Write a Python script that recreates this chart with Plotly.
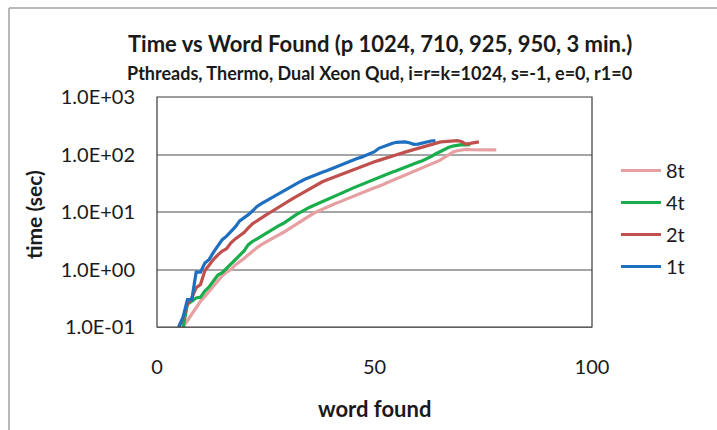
import plotly.graph_objects as go

# word-found counts start at these values (integer steps of one word)
start_1t, start_2t, start_4t, start_8t = 5, 5, 6, 6

time_1t = [0.10, 0.15, 0.30, 0.30, 0.90, 0.90, 1.3, 1.5, 2.0, 2.6, 3.3, 3.8, 4.5, 5.5, 7.0, 7.8,
           9.0, 10.5, 12.5, 14.0, 15.5, 17.0, 19.0, 21.0, 23.0, 25.5, 28.0, 31.0, 34.0, 37.0,
           40.0, 43.0, 46.0, 49.0, 52.0, 56.0, 60.0, 65.0, 69.0, 73.0, 79.0, 85.0, 90.0, 97.0,
           104, 112, 128, 138, 146, 155, 163, 166, 166, 160, 150, 152, 160, 168, 172, 175]

time_2t = [0.10, 0.14, 0.25, 0.32, 0.48, 0.55, 0.95, 1.2, 1.5, 1.8, 2.1, 2.3, 2.9, 3.4, 3.8, 4.4,
           5.3, 6.3, 7.0, 8.0, 8.8, 9.8, 11.0, 12.3, 13.5, 15.0, 16.8, 18.5, 20.5, 23.0, 25.0,
           27.5, 30.5, 33.5, 36.0, 38.5, 41.5, 44.0, 47.0, 51.0, 55.0, 58.0, 62.0, 66.0, 71.0,
           75.0, 79.0, 84.0, 89.0, 94.0, 99.0, 104, 110, 116, 122, 128, 136, 143, 150, 157, 164,
           168, 170, 172, 174, 168, 152, 156, 162, 166]

time_4t = [0.10, 0.25, 0.28, 0.32, 0.33, 0.42, 0.50, 0.62, 0.80, 0.88, 1.05, 1.25, 1.45, 1.8, 2.1,
           2.7, 3.1, 3.4, 3.8, 4.2, 4.7, 5.2, 5.8, 6.3, 7.2, 8.0, 9.0, 10.0, 11.0, 12.0, 13.0, 14.0,
           15.0, 16.3, 17.5, 18.8, 20.0, 22.0, 24.0, 26.0, 28.0, 30.0, 32.0, 34.5, 37.0, 39.5,
           42.5, 45.5, 49.0, 52.0, 56.0, 60.0, 64.0, 68.0, 73.0, 78.0, 84.0, 92.0, 102, 112, 122,
           132, 140, 146, 148, 147, 148]

time_8t = [0.10, 0.13, 0.17, 0.22, 0.28, 0.34, 0.42, 0.52, 0.66, 0.78, 0.90, 1.0, 1.2, 1.35, 1.55,
           1.8, 2.1, 2.4, 2.7, 3.0, 3.3, 3.6, 4.0, 4.4, 4.9, 5.5, 6.2, 7.0, 7.8, 8.6, 9.5, 10.3,
           11.2, 12.0, 13.0, 14.0, 15.0, 16.2, 17.5, 18.8, 20.0, 21.5, 23.0, 24.5, 26.0, 28.0,
           30.0, 32.5, 35.0, 37.5, 40.0, 43.0, 46.0, 49.0, 53.0, 57.0, 62.0, 67.0, 73.0, 79.0,
           88.0, 98.0, 110, 116, 120, 123, 122, 121, 120, 120, 120, 120, 120]

# legend order, top to bottom
series_names = ["8t", "4t", "2t", "1t"]
series_starts = [start_8t, start_4t, start_2t, start_1t]
series_values = [time_8t, time_4t, time_2t, time_1t]
series_colors = ["#e6a0a2", "#1aad4b", "#c0504d", "#1f6fc0"]

y_tick_vals = [0.1, 1, 10, 100, 1000]
y_tick_text = ["1.0E-01", "1.0E+00", "1.0E+01", "1.0E+02", "1.0E+03"]
x_tick_vals = [0, 50, 100]

FONT = "Lato"
TXT = "#1a1a1a"

fig = go.Figure()
for name, s, vals, col in zip(series_names, series_starts, series_values, series_colors):
    fig.add_trace(go.Scatter(
        x=list(range(s, s + len(vals))), y=vals, mode="lines", name=name,
        legendgroup=name, line=dict(color=col, width=3.2),
    ))

L, R, T, B = 157, 125, 97, 103
W, H = 717, 430
pw, ph = W - L - R, H - T - B


def px(xp):
    return (xp - L) / pw


def py(yp):
    return (H - B - yp) / ph


fig.update_layout(
    width=W, height=H,
    margin=dict(l=L, r=R, t=T, b=B, autoexpand=False),
    paper_bgcolor="white", plot_bgcolor="white",
    font=dict(family=FONT, color=TXT),
    showlegend=True,
    legend=dict(
        x=px(616), y=py(151), xanchor="left", yanchor="top",
        traceorder="grouped", tracegroupgap=3,
        font=dict(size=20, family=FONT, color=TXT),
        bgcolor="rgba(0,0,0,0)", itemwidth=40,
    ),
    xaxis=dict(
        range=[0, 100], tickvals=x_tick_vals, showgrid=False, zeroline=False,
        showline=True, linecolor="#808080", linewidth=1, mirror=False,
        tickfont=dict(size=20, family=FONT, color=TXT), ticks="",
        ticklabelstandoff=22,
    ),
    yaxis=dict(
        type="log", range=[-1, 3], tickvals=y_tick_vals, ticktext=y_tick_text,
        showgrid=True, gridcolor="#a6a6a6", gridwidth=1.5, zeroline=False,
        showline=False,
        tickfont=dict(size=20, family=FONT, color=TXT), ticks="",
        ticklabelstandoff=21,
    ),
    annotations=[
        dict(text="<b>Time vs Word Found (p 1024, 710, 925, 950, 3 min.)</b>",
             x=px(380), y=py(43), xref="paper", yref="paper", showarrow=False,
             font=dict(size=22, family=FONT, color=TXT), xanchor="center", yanchor="middle"),
        dict(text="<b>Pthreads, Thermo, Dual Xeon Qud, i=r=k=1024, s=-1, e=0, r1=0</b>",
             x=px(379), y=py(73), xref="paper", yref="paper", showarrow=False,
             font=dict(size=18, family=FONT, color=TXT), xanchor="center", yanchor="middle"),
        dict(text="<b>word found</b>", x=px(374), y=py(408), xref="paper", yref="paper",
             showarrow=False, font=dict(size=22, family=FONT, color=TXT),
             xanchor="center", yanchor="middle"),
        dict(text="<b>time (sec)</b>", x=px(33), y=py(215), xref="paper", yref="paper",
             showarrow=False, textangle=-90, font=dict(size=21, family=FONT, color=TXT),
             xanchor="center", yanchor="middle"),
    ],
    shapes=[
        # plot-area frame
        dict(type="rect", xref="paper", yref="paper", x0=0, x1=1, y0=0, y1=1,
             line=dict(color="#3a3a3a", width=1.2), layer="above"),
        # outer chart border (top and left edges)
        dict(type="line", xref="paper", yref="paper", x0=px(9), x1=px(717), y0=py(8), y1=py(8),
             line=dict(color="#a0a0a0", width=1.5)),
        dict(type="line", xref="paper", yref="paper", x0=px(9), x1=px(9), y0=py(8), y1=py(430),
             line=dict(color="#a0a0a0", width=1.5)),
    ],
)

fig.write_html("out.html")
